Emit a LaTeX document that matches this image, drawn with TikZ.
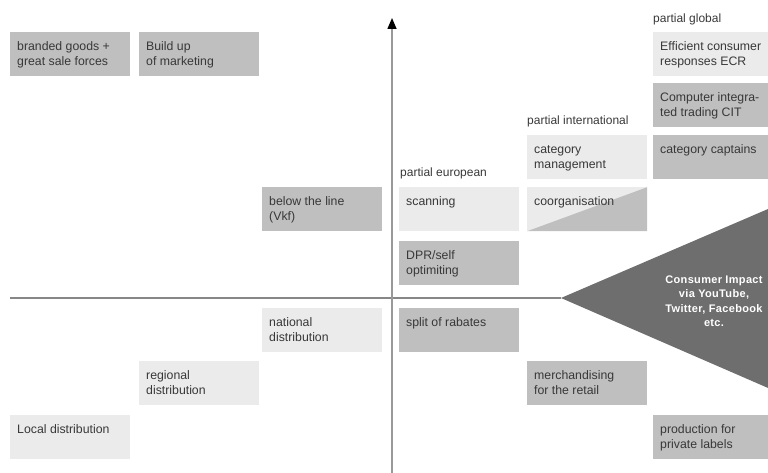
\documentclass[tikz,border=0pt]{standalone}
\usepackage{fontspec}
\setmainfont{Liberation Sans}
\newfontfamily\impactfam[LetterSpace=3]{Liberation Sans}
\usetikzlibrary{arrows.meta}
\definecolor{cellDark}{HTML}{BFBFBF}
\definecolor{cellLight}{HTML}{EBEBEB}
\definecolor{triGray}{HTML}{6E6E6E}
\definecolor{txtGray}{HTML}{383838}
\newcommand\celltext[1]{\parbox[c][44pt][t]{106pt}{\raggedright\rule{0pt}{18pt}#1}}

\begin{document}
\begin{tikzpicture}[x=1pt,y=-1pt,
  cell/.style={anchor=north west, inner xsep=7pt, inner ysep=0pt, text=txtGray, font=\fontsize{12.3}{15}\selectfont},
  darkcell/.style={cell, fill=cellDark},
  lightcell/.style={cell, fill=cellLight},
  grouplabel/.style={anchor=west, inner sep=0pt, text=txtGray, font=\fontsize{12}{14}\selectfont}]
\useasboundingbox (0,0) rectangle (768,473);
% axes
\coordinate (hstart) at (10,298);
\coordinate (apex) at (561,298);
\coordinate (vbot) at (392,473);
\coordinate (vtop) at (392,18);
\fill[triGray] (apex) -- (775,206) -- (775,391) -- cycle;
\draw[black!47, line width=2pt] (hstart) -- (apex);
\draw[black!40, line width=1.5pt, -{Triangle[length=11pt,width=9pt,black]}] (vbot) -- (vtop);
% top left
\node[darkcell] (brand) at (10,32) {\celltext{branded goods +\\great sale forces}};
\node[darkcell] (marketing) at (139,32) {\celltext{Build up\\of marketing}};
\node[darkcell] (belowline) at (262,187) {\celltext{below the line\\(Vkf)}};
% partial european
\node[grouplabel] (european) at (400,173) {partial european};
\node[lightcell] (scanning) at (399,187) {\celltext{scanning}};
\node[darkcell] (dpr) at (399,241) {\celltext{DPR/self\\optimiting}};
% partial international
\node[grouplabel] (international) at (527,121) {partial international};
\node[lightcell] (catmgmt) at (527,135) {\celltext{category\\management}};
\node[lightcell, path picture={\fill[cellDark] (path picture bounding box.south west) -- (path picture bounding box.north east) -- (path picture bounding box.south east) -- cycle;}] (coorg) at (527,187) {\celltext{coorganisation}};
% partial global
\node[grouplabel] (global) at (653,19) {partial global};
\node[lightcell] (ecr) at (653,32) {\celltext{Efficient consumer\\responses ECR}};
\node[darkcell] (cit) at (653,83) {\celltext{Computer integra-\\ted trading CIT}};
\node[darkcell] (captains) at (653,135) {\celltext{category captains}};
% lower half
\node[lightcell] (national) at (262,308) {\celltext{national\\distribution}};
\node[lightcell] (regional) at (139,361) {\celltext{regional\\distribution}};
\node[lightcell] (local) at (10,415) {\celltext{Local distribution}};
\node[darkcell] (rabates) at (399,308) {\celltext{split of rabates}};
\node[darkcell] (merch) at (527,361) {\celltext{merchandising\\for the retail}};
\node[darkcell] (privlab) at (653,415) {\celltext{production for\\private labels}};
% consumer impact
\node[text=white, align=center, font=\impactfam\bfseries\fontsize{11}{14.5}\selectfont] (impact) at (714,301) {Consumer Impact\\via YouTube,\\Twitter, Facebook\\etc.};
\end{tikzpicture}
\end{document}
